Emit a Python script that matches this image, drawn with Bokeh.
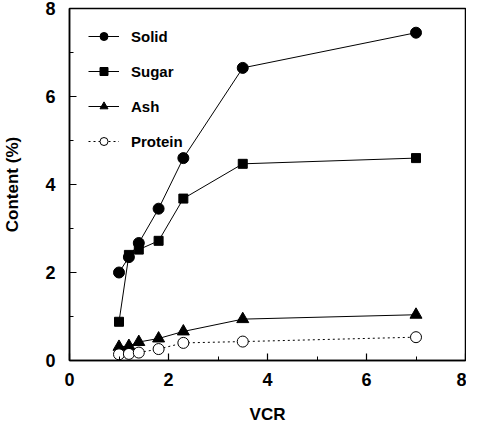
from bokeh.plotting import figure
from bokeh.models import Legend, LegendItem, Range1d, FixedTicker
from bokeh.embed import file_html
from bokeh.resources import INLINE

vcr = [1.0, 1.2, 1.4, 1.8, 2.3, 3.5, 7.0]
solid = [2.0, 2.35, 2.67, 3.45, 4.6, 6.65, 7.45]
sugar = [0.88, 2.4, 2.52, 2.72, 3.68, 4.47, 4.6]
ash = [0.31, 0.33, 0.42, 0.5, 0.66, 0.94, 1.04]
protein = [0.14, 0.15, 0.18, 0.26, 0.4, 0.43, 0.53]
x_ticks = [0, 2, 4, 6, 8]
y_ticks = [0, 2, 4, 6, 8]
minor = [1, 3, 5, 7]

FONT = "Liberation Sans"

p = figure(width=466, height=426, output_backend="svg", toolbar_location=None,
           x_range=Range1d(0, 8), y_range=Range1d(0, 8),
           min_border_left=64, min_border_right=1, min_border_top=8, min_border_bottom=58)
p.grid.visible = False
p.outline_line_color = "black"
p.outline_line_width = 1.5
p.background_fill_color = "white"
p.border_fill_color = "white"

for ax in (p.xaxis[0], p.yaxis[0]):
    ax.major_tick_in = 7
    ax.major_tick_out = 0
    ax.minor_tick_in = 4
    ax.minor_tick_out = 0
    ax.axis_line_width = 1.5
    ax.major_tick_line_width = 1.2
    ax.major_label_text_font = FONT
    ax.major_label_text_font_style = "bold"
    ax.major_label_text_font_size = "18px"
    ax.major_label_text_color = "black"
    ax.axis_label_text_font = FONT
    ax.axis_label_text_font_style = "bold"
    ax.axis_label_text_font_size = "17px"
    ax.axis_label_text_color = "black"

p.xaxis[0].ticker = FixedTicker(ticks=x_ticks, minor_ticks=minor)
p.yaxis[0].ticker = FixedTicker(ticks=y_ticks, minor_ticks=minor)
p.xaxis.axis_label = "VCR"
p.yaxis.axis_label = "Content (%)"
p.xaxis.major_label_standoff = 12
p.yaxis.major_label_standoff = 14
p.xaxis.axis_label_standoff = 16
p.yaxis.axis_label_standoff = 20

lw = 1.0
r1l = p.line(vcr, solid, line_color="black", line_width=lw)
r1m = p.scatter(vcr, solid, marker="circle", size=11, fill_color="black", line_color="black")
r2l = p.line(vcr, sugar, line_color="black", line_width=lw)
r2m = p.scatter(vcr, sugar, marker="square", size=9, fill_color="black", line_color="black")
r3l = p.line(vcr, ash, line_color="black", line_width=lw)
r3m = p.scatter(vcr, ash, marker="triangle", size=12, fill_color="black", line_color="black")
r4l = p.line(vcr, protein, line_color="black", line_width=1.0, line_dash="2 3")
r4m = p.scatter(vcr, protein, marker="circle", size=11, fill_color="white", line_color="black", line_width=1.0)

legend = Legend(items=[
    LegendItem(label="Solid", renderers=[r1l, r1m]),
    LegendItem(label="Sugar", renderers=[r2l, r2m]),
    LegendItem(label="Ash", renderers=[r3l, r3m]),
    LegendItem(label="Protein", renderers=[r4l, r4m]),
], location=(19, 209), padding=5, margin=0, spacing=15,
    glyph_width=31, glyph_height=20, label_height=20, label_standoff=12,
    label_text_font=FONT, label_text_font_style="bold", label_text_font_size="15px",
    label_text_color="black", border_line_color=None, background_fill_alpha=0)
p.add_layout(legend)

open("out.html", "w").write(file_html(p, INLINE))
